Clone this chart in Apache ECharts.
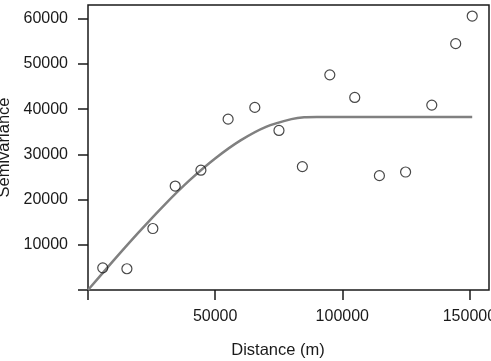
<!DOCTYPE html>
<html>
<head>
<meta charset="utf-8">
<script src="https://cdn.jsdelivr.net/npm/echarts@6/dist/echarts.min.js"></script>
<style>
  html, body { margin: 0; padding: 0; background: #fff; }
  #chart { width: 491px; height: 361px; }
</style>
</head>
<body>
<div id="chart"></div>
<script>
// empirical variogram points (distance, semivariance)
const lagDist = [5800, 15300, 25500, 34300, 44400, 55100, 65600, 75100, 84300, 95100, 104900, 114600, 124900, 135200, 144600, 151100];
const semivar = [4900, 4700, 13600, 23000, 26500, 37800, 40400, 35300, 27300, 47600, 42600, 25300, 26100, 40900, 54500, 60600];

// fitted model line
const modelDist = [0, 10000, 20000, 30000, 40000, 50000, 60000, 70000, 80000, 85000, 90000, 100000, 151100];
const modelVal = [0, 6500, 12800, 18800, 24300, 29100, 33100, 36100, 37800, 38240, 38300, 38300, 38300];

const xTicks = [0, 50000, 100000, 150000];
const yTicks = [0, 10000, 20000, 30000, 40000, 50000, 60000];

const chart = echarts.init(document.getElementById('chart'));
const ink = '#1a1a1a';
const font = 'Liberation Sans';

chart.setOption({
  animation: false,
  grid: {
    left: 88, right: 2, top: 5, bottom: 71,
    outerBoundsMode: 'none', containLabel: false,
    show: true, borderColor: ink, borderWidth: 1.5, backgroundColor: '#fff'
  },
  xAxis: {
    type: 'value',
    min: 0, max: 157700, interval: 50000,
    splitLine: { show: false },
    axisLine: { show: false },
    axisTick: { show: true, length: 10, customValues: xTicks, lineStyle: { color: ink, width: 1.5 } },
    axisLabel: {
      customValues: xTicks.filter((v) => v > 0),
      formatter: (v) => String(v),
      color: ink, fontFamily: font, fontSize: 16, margin: 19
    },
    name: 'Distance (m)',
    nameLocation: 'middle',
    nameGap: 52,
    nameTextStyle: { color: ink, fontFamily: font, fontSize: 16.5, padding: [0, 21, 0, 0] }
  },
  yAxis: {
    type: 'value',
    min: 0, max: 63050, interval: 10000,
    splitLine: { show: false },
    axisLine: { show: false },
    axisTick: { show: true, length: 10, customValues: yTicks, lineStyle: { color: ink, width: 1.5 } },
    axisLabel: {
      customValues: yTicks.filter((v) => v > 0),
      formatter: (v) => String(v),
      color: ink, fontFamily: font, fontSize: 16, margin: 20
    },
    name: 'Semivariance',
    nameLocation: 'middle',
    nameGap: 74,
    nameTextStyle: { color: ink, fontFamily: font, fontSize: 16.5 }
  },
  series: [
    {
      type: 'line',
      data: modelDist.map((d, i) => [d, modelVal[i]]),
      smooth: 0.3,
      showSymbol: false,
      lineStyle: { color: '#808080', width: 2.5 },
      z: 1
    },
    {
      type: 'scatter',
      data: lagDist.map((d, i) => [d, semivar[i]]),
      symbol: 'circle',
      symbolSize: 10,
      itemStyle: { color: 'rgba(255,255,255,0)', borderColor: ink, borderWidth: 1.2 },
      z: 2
    }
  ]
});
</script>
</body>
</html>
